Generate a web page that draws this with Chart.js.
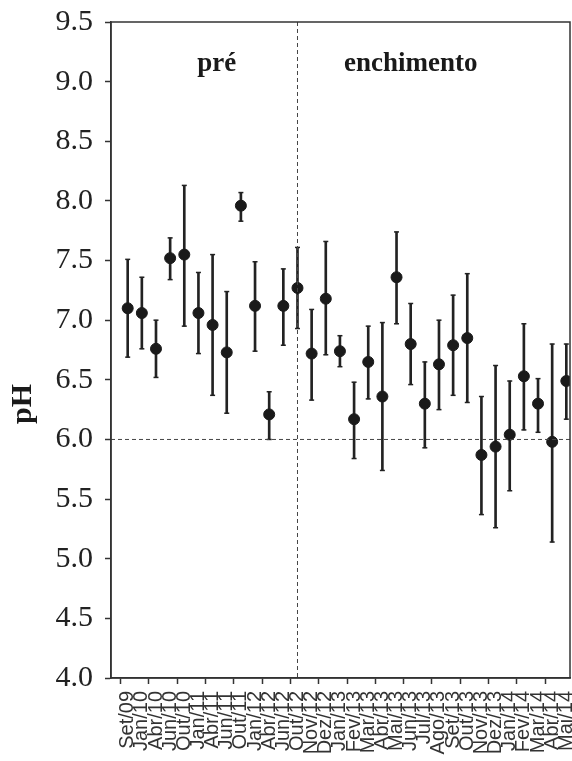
<!DOCTYPE html>
<html>
<head>
<meta charset="utf-8">
<script src="https://cdn.jsdelivr.net/npm/chart.js@4.4.1/dist/chart.umd.min.js"></script>
<style>
    body { margin: 0; background: #fff; }
    #wrap { width: 572px; height: 761px; position: relative; }
</style>
</head>
<body>
<div id="wrap"><canvas id="chart-canvas"></canvas></div>
<script>
const meses = ['Set/09', 'Jan/10', 'Abr/10', 'Jun/10', 'Out/10', 'Jan/11', 'Abr/11', 'Jun/11', 'Out/11',
    'Jan/12', 'Abr/12', 'Jun/12', 'Out/12', 'Nov/12', 'Dez/12', 'Jan/13', 'Fev/13', 'Mar/13', 'Abr/13',
    'Mai/13', 'Jun/13', 'Jul/13', 'Ago/13', 'Set/13', 'Out/13', 'Nov/13', 'Dez/13', 'Jan/14', 'Fev/14',
    'Mar/14', 'Abr/14', 'Mai/14']

// média e extremos das barras de erro
const phMedio = [7.10, 7.06, 6.76, 7.52, 7.55, 7.06, 6.96, 6.73, 7.96, 7.12, 6.21, 7.12, 7.27, 6.72, 7.18, 6.74,
    6.17, 6.65, 6.36, 7.36, 6.80, 6.30, 6.63, 6.79, 6.85, 5.87, 5.94, 6.04, 6.53, 6.30, 5.98, 6.49]
const phMax = [7.51, 7.36, 7.00, 7.69, 8.13, 7.40, 7.55, 7.24, 8.07, 7.49, 6.40, 7.43, 7.61, 7.09, 7.66, 6.87,
    6.48, 6.95, 6.98, 7.74, 7.14, 6.65, 7.00, 7.21, 7.39, 6.36, 6.62, 6.49, 6.97, 6.51, 6.80, 6.80]
const phMin = [6.69, 6.76, 6.52, 7.34, 6.95, 6.72, 6.37, 6.22, 7.83, 6.74, 6.00, 6.79, 6.93, 6.33, 6.71, 6.61,
    5.84, 6.34, 5.74, 6.97, 6.46, 5.93, 6.25, 6.37, 6.31, 5.37, 5.26, 5.57, 6.08, 6.06, 5.14, 6.17]

const yTicks = [4.0, 4.5, 5.0, 5.5, 6.0, 6.5, 7.0, 7.5, 8.0, 8.5, 9.0, 9.5]
const limiteRef = 6.0          // linha horizontal tracejada
const inicioEnchimento = 12    // índice de Out/12
const fases = [
    { texto: 'pré', x: 6.3 },
    { texto: 'enchimento', x: 20.0 }
]

const cor = '#222'

// Plugin: moldura, linhas tracejadas, textos das fases e rótulo pH
const extras = {
    id: 'extras',
    afterDatasetsDraw(chart) {
        const { ctx, chartArea, scales } = chart
        const xs = scales.x
        const ys = scales.y
        ctx.save()

        ctx.strokeStyle = '#444'
        ctx.lineWidth = 1
        ctx.setLineDash([4, 3])
        ctx.beginPath()
        const yRef = ys.getPixelForValue(limiteRef)
        ctx.moveTo(chartArea.left, yRef)
        ctx.lineTo(chartArea.right, yRef)
        const xRef = xs.getPixelForValue(inicioEnchimento)
        ctx.moveTo(xRef, chartArea.top)
        ctx.lineTo(xRef, chartArea.bottom)
        ctx.stroke()
        ctx.setLineDash([])

        ctx.strokeStyle = '#333'
        ctx.lineWidth = 1.5
        ctx.strokeRect(chartArea.left, chartArea.top, chartArea.right - chartArea.left, chartArea.bottom - chartArea.top)

        ctx.fillStyle = '#1a1a1a'
        ctx.font = 'bold 27px "Liberation Serif", "Times New Roman", serif'
        ctx.textAlign = 'center'
        ctx.textBaseline = 'middle'
        fases.forEach(f => {
            ctx.fillText(f.texto, xs.getPixelForValue(f.x), ys.getPixelForValue(9.15))
        })

        ctx.font = 'bold 30px "Liberation Serif", "Times New Roman", serif'
        ctx.translate(23, 404)
        ctx.rotate(-Math.PI / 2)
        ctx.fillText('pH', 0, 0)
        ctx.restore()
    }
}

const ctx = document.getElementById('chart-canvas').getContext('2d')

new Chart(ctx, {
    type: 'bar',
    data: {
        datasets: [
            {
                type: 'scatter',
                data: meses.map((m, i) => ({ x: i, y: phMedio[i] })),
                pointRadius: 5.5,
                pointBackgroundColor: '#1a1a1a',
                pointBorderColor: '#1a1a1a',
                order: 1
            },
            {
                type: 'scatter',
                data: meses.map((m, i) => ({ x: i, y: phMax[i] })).concat(meses.map((m, i) => ({ x: i, y: phMin[i] }))),
                pointStyle: 'line',
                pointRadius: 2.5,
                pointBorderWidth: 1.5,
                pointBorderColor: cor,
                order: 2
            },
            {
                type: 'bar',
                data: meses.map((m, i) => ({ x: i, y: [phMin[i], phMax[i]] })),
                backgroundColor: cor,
                barThickness: 2,
                order: 3
            }
        ]
    },
    options: {
        responsive: true,
        maintainAspectRatio: false,
        animation: false,
        events: [],
        layout: {
            autoPadding: false,
            padding: { top: 22, right: 2, bottom: 0, left: 0 }
        },
        plugins: {
            legend: { display: false },
            tooltip: { enabled: false }
        },
        scales: {
            x: {
                type: 'linear',
                offset: false,
                min: -1.18,
                max: 31.26,
                afterFit: (scale) => {
                    scale.height = 83
                    scale.paddingLeft = 0
                    scale.paddingRight = 0
                },
                afterBuildTicks: (scale) => { scale.ticks = meses.map((m, i) => ({ value: i })) },
                border: { display: true, color: '#333', width: 1.5 },
                grid: {
                    drawOnChartArea: false,
                    drawTicks: true,
                    tickLength: 6,
                    tickWidth: 1.5,
                    tickColor: (c) => (c.tick && c.tick.value % 2 === 0) ? '#333' : 'rgba(0,0,0,0)'
                },
                ticks: {
                    autoSkip: false,
                    maxRotation: 90,
                    minRotation: 90,
                    padding: 7,
                    color: '#333',
                    font: { family: '"Liberation Sans", Arial, sans-serif', size: 20 },
                    callback: (v) => meses[v]
                }
            },
            y: {
                min: 4,
                max: 9.5,
                afterFit: (scale) => {
                    scale.width = 111
                    scale.paddingTop = 0
                    scale.paddingBottom = 0
                },
                afterBuildTicks: (scale) => { scale.ticks = yTicks.map(v => ({ value: v })) },
                border: { display: true, color: '#333', width: 1.5 },
                grid: {
                    drawOnChartArea: false,
                    drawTicks: true,
                    tickLength: 6,
                    tickWidth: 1.5,
                    tickColor: '#333'
                },
                ticks: {
                    padding: 12,
                    color: '#222',
                    font: { family: '"Liberation Serif", "Times New Roman", serif', size: 30 },
                    callback: (v) => v.toFixed(1)
                }
            }
        }
    },
    plugins: [extras]
})
</script>
</body>
</html>
